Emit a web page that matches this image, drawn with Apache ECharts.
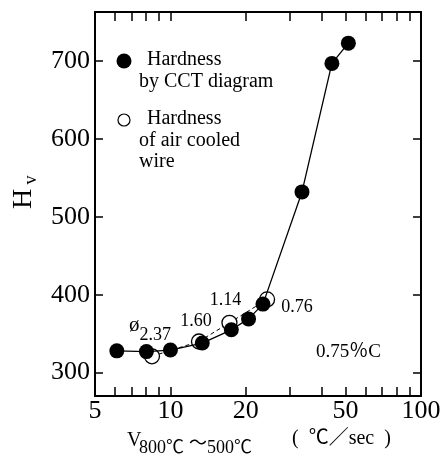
<!DOCTYPE html>
<html><head><meta charset="utf-8">
<script src="https://cdn.jsdelivr.net/npm/echarts@6/dist/echarts.min.js"></script>
<style>html,body{margin:0;padding:0;background:#fff}#c{width:447px;height:457px}</style>
</head><body><div id="c"></div>
<script>
// ---- data ----
const cctRate = [6.11, 8.02, 10.0, 13.4, 17.5, 20.5, 23.4, 33.5, 44.1, 51.3];
const cctHardness = [328, 327, 329, 338, 355, 369, 388, 532, 697, 723];
const wireRate = [8.44, 13.0, 17.2, 24.3];
const wireHardness = [321, 340, 364, 394];
const wireDiameter = ['2.37', '1.60', '1.14', '0.76'];
const xTickLabels = [5, 10, 20, 50, 100];
const xTicks = [6, 7, 8, 9, 10, 20, 30, 40, 50, 60, 70, 80, 90];
const yTickLabels = [300, 400, 500, 600, 700];

// ---- layout / style ----
const SERIF = '"Liberation Serif","DejaVu Serif",serif';
const CJK = '"Liberation Serif","Noto Sans CJK JP",serif';
const labelOffsets = [[-2, -21], [-3, -20], [-4, -23], [30, 8]];

const chart = echarts.init(document.getElementById('c'), null, {renderer: 'canvas'});

function xAxisCfg(pos, showLabel) {
  return {
    type: 'log', logBase: 10, min: 5, max: 100, position: pos,
    axisLine: {show: true, onZero: false, lineStyle: {color: '#000', width: 2}},
    axisTick: {show: true, inside: true, length: 9, customValues: xTicks, lineStyle: {color: '#000', width: 1.5}},
    minorTick: {show: false},
    axisLabel: {show: showLabel, customValues: xTickLabels, color: '#000', fontFamily: SERIF, fontSize: 26, margin: 2},
    splitLine: {show: false}
  };
}
function yAxisCfg(pos, showLabel) {
  return {
    type: 'value', min: 270, max: 763, position: pos,
    axisLine: {show: true, onZero: false, lineStyle: {color: '#000', width: 2}},
    axisTick: {show: true, inside: true, length: 8, customValues: yTickLabels, lineStyle: {color: '#000', width: 1.5}},
    axisLabel: {show: showLabel, customValues: yTickLabels, color: '#000', fontFamily: SERIF, fontSize: 26, margin: 5},
    splitLine: {show: false}
  };
}

const cctData = cctRate.map((x, i) => [x, cctHardness[i]]);
const wireData = wireRate.map((x, i) => ({
  value: [x, wireHardness[i]],
  label: {offset: labelOffsets[i]}
}));

chart.setOption({
  animation: false,
  backgroundColor: '#fff',
  grid: {left: 95, right: 26, top: 12, bottom: 61},
  xAxis: [xAxisCfg('bottom', true), xAxisCfg('top', false)],
  yAxis: [yAxisCfg('left', true), yAxisCfg('right', false)],
  series: [
    {
      type: 'line', name: 'air cooled wire', data: wireData, z: 2,
      symbol: 'circle', symbolSize: 15,
      itemStyle: {color: '#fff', borderColor: '#000', borderWidth: 1.3},
      lineStyle: {color: '#000', width: 1, type: [4, 3]},
      label: {
        show: true, position: 'inside', color: '#000',
        fontFamily: SERIF, fontSize: 18,
        formatter: p => (p.dataIndex === 0 ? '{p|ø}' : '') + '{n|' + wireDiameter[p.dataIndex] + '}',
        rich: {
          p: {fontFamily: SERIF, fontSize: 21, color: '#000', padding: [0, 0, 20, 0]},
          n: {fontFamily: SERIF, fontSize: 18, color: '#000'}
        }
      }
    },
    {
      type: 'line', name: 'CCT diagram', data: cctData, z: 3,
      symbol: 'circle', symbolSize: 15,
      itemStyle: {color: '#000'},
      lineStyle: {color: '#000', width: 1.3}
    }
  ],
  graphic: [
    {type: 'circle', shape: {cx: 124, cy: 61, r: 7.5}, style: {fill: '#000'}},
    {type: 'text', left: 147, top: 50, style: {text: 'Hardness', font: '20px ' + SERIF, fill: '#000'}},
    {type: 'text', left: 139, top: 72, style: {text: 'by CCT diagram', font: '20px ' + SERIF, fill: '#000'}},
    {type: 'circle', shape: {cx: 124, cy: 120, r: 6}, style: {fill: '#fff', stroke: '#000', lineWidth: 1.2}},
    {type: 'text', left: 147, top: 109, style: {text: 'Hardness', font: '20px ' + SERIF, fill: '#000'}},
    {type: 'text', left: 139, top: 131, style: {text: 'of air cooled', font: '20px ' + SERIF, fill: '#000'}},
    {type: 'text', left: 139, top: 152, style: {text: 'wire', font: '20px ' + SERIF, fill: '#000'}},
    {type: 'text', x: 24, y: 199, rotation: Math.PI / 2,
      style: {text: 'H', font: '28px ' + SERIF, fill: '#000', align: 'center', verticalAlign: 'middle'}},
    {type: 'text', x: 31, y: 180, rotation: Math.PI / 2,
      style: {text: 'v', font: '18px ' + SERIF, fill: '#000', align: 'center', verticalAlign: 'middle'}},
    {type: 'text', x: 127, y: 441, style: {text: 'V', font: '20px ' + SERIF, fill: '#000', verticalAlign: 'middle'}},
    {type: 'text', x: 139, y: 448, style: {text: '800℃', font: '18px ' + CJK, fill: '#000', verticalAlign: 'middle'}},
    {type: 'text', x: 189, y: 444, style: {text: '〜', font: '18px ' + CJK, fill: '#000', verticalAlign: 'middle'}},
    {type: 'text', x: 207, y: 448, style: {text: '500℃', font: '18px ' + CJK, fill: '#000', verticalAlign: 'middle'}},
    {type: 'text', x: 292, y: 439, style: {text: '(  ℃／sec  )', font: '20px ' + CJK, fill: '#000', verticalAlign: 'middle'}},
    {type: 'text', x: 316, y: 352, style: {text: '0.75％C', font: '19px ' + CJK, fill: '#000', verticalAlign: 'middle'}}
  ]
});
</script></body></html>
